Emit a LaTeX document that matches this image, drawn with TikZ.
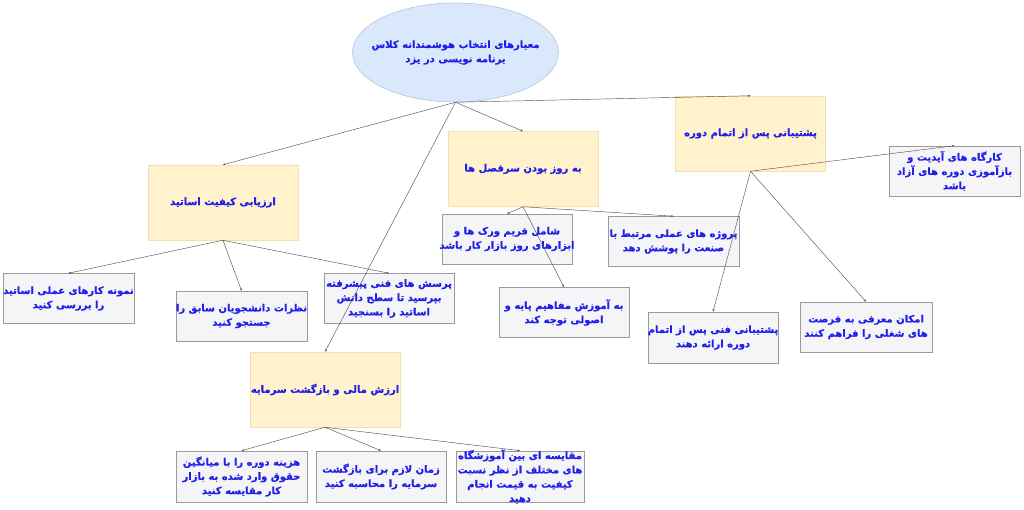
\documentclass[tikz,border=0pt]{standalone}
\usepackage{fontspec}
\usetikzlibrary{shapes.geometric,arrows.meta}
\TeXXeTstate=1
\newfontfamily\farsi[Script=Arabic, BoldFeatures={FakeBold=0.6}]{DejaVu Sans}
\definecolor{txtblue}{HTML}{2020E8}
\definecolor{yelfill}{HTML}{FFF2CC}
\definecolor{yeldraw}{HTML}{F3E0B0}
\definecolor{elfill}{HTML}{DAE8FC}
\definecolor{eldraw}{HTML}{A9BFDF}
\definecolor{grfill}{HTML}{F5F5F7}
\definecolor{grdraw}{HTML}{9A9A9A}
\definecolor{lnclr}{HTML}{555555}
\tikzset{
  txt/.style={font=\farsi\bfseries\fontsize{10}{14.3}\selectfont, text=txtblue, align=center, inner sep=0pt},
  rootnode/.style={ellipse, fill=elfill, draw=eldraw, line width=0.5pt, minimum width=206pt, minimum height=99pt, inner sep=0pt},
  catbox/.style={rectangle, fill=yelfill, draw=yeldraw, line width=0.5pt, minimum width=150pt, minimum height=75pt, inner sep=0pt},
  leafbox/.style={rectangle, fill=grfill, draw=grdraw, line width=0.6pt, minimum width=130pt, minimum height=50pt, inner sep=0pt},
  conn/.style={draw=lnclr, line width=0.45pt, -{Stealth[length=2.6pt,width=2.2pt]}}
}
\begin{document}
\begin{tikzpicture}[x=1pt,y=-1pt]
\useasboundingbox (0,0) rectangle (1024,510);
\fill[white] (0,0) rectangle (1024,510);

\node[rootnode, label={[txt]center:{\beginR معیارهای انتخاب هوشمندانه کلاس\endR\\\beginR برنامه نویسی در یزد\endR}}] (root) at (455.5,52.5) {};

\node[catbox, label={[txt]center:{\beginR پشتیبانی پس از اتمام دوره\endR}}] (sup) at (750.5,133.5) {};
\node[catbox, label={[txt]center:{\beginR به روز بودن سرفصل ها\endR}}] (upd) at (523,169) {};
\node[catbox, label={[txt]center:{\beginR ارزیابی کیفیت اساتید\endR}}] (tch) at (223,202.5) {};
\node[catbox, label={[txt]center:{\beginR ارزش مالی و بازگشت سرمایه\endR}}] (fin) at (325,389.5) {};

\node[leafbox, minimum width=131pt, label={[txt]center:{\beginR نمونه کارهای عملی اساتید\endR\\\beginR را بررسی کنید\endR}}] (t1) at (68.5,298.5) {};
\node[leafbox, minimum width=131pt, label={[txt]center:{\beginR نظرات دانشجویان سابق را\endR\\\beginR جستجو کنید\endR}}] (t2) at (241.5,316) {};
\node[leafbox, label={[txt]center:{\beginR پرسش های فنی پیشرفته\endR\\\beginR بپرسید تا سطح دانش\endR\\\beginR اساتید را بسنجید\endR}}] (t3) at (389,298.5) {};

\node[leafbox, label={[txt]center:{\beginR شامل فریم ورک ها و\endR\\\beginR ابزارهای روز بازار کار باشد\endR}}] (u1) at (507,239) {};
\node[leafbox, minimum width=131pt, label={[txt]center:{\beginR پروژه های عملی مرتبط با\endR\\\beginR صنعت را پوشش دهد\endR}}] (u2) at (673.5,241.5) {};
\node[leafbox, label={[txt]center:{\beginR به آموزش مفاهیم پایه و\endR\\\beginR اصولی توجه کند\endR}}] (u3) at (564,312.5) {};

\node[leafbox, minimum width=131pt, label={[txt]center:{\beginR کارگاه های آپدیت و\endR\\\beginR بازآموزی دوره های آزاد\endR\\\beginR باشد\endR}}] (s1) at (954.5,171) {};
\node[leafbox, minimum height=51pt, label={[txt]center:{\beginR پشتیبانی فنی پس از اتمام\endR\\\beginR دوره ارائه دهند\endR}}] (s2) at (713,337.5) {};
\node[leafbox, minimum width=132pt, label={[txt]center:{\beginR امکان معرفی به فرصت\endR\\\beginR های شغلی را فراهم کنند\endR}}] (s3) at (866,327) {};

\node[leafbox, minimum width=131pt, minimum height=51pt, label={[txt]center:{\beginR هزینه دوره را با میانگین\endR\\\beginR حقوق وارد شده به بازار\endR\\\beginR کار مقایسه کنید\endR}}] (f1) at (241.5,476.5) {};
\node[leafbox, minimum height=51pt, label={[txt]center:{\beginR زمان لازم برای بازگشت\endR\\\beginR سرمایه را محاسبه کنید\endR}}] (f2) at (381,476.5) {};
\node[leafbox, minimum width=128pt, minimum height=51pt, label={[txt]center:{\beginR مقایسه ای بین آموزشگاه\endR\\\beginR های مختلف از نظر نسبت\endR\\\beginR کیفیت به قیمت انجام\endR\\\beginR دهید\endR}}] (f3) at (520,476.5) {};

\draw[conn] (root.south) -- (tch.north);
\draw[conn] (root.south) -- (upd.north);
\draw[conn] (root.south) -- (fin.north);
\draw[conn] (root.south) -- (sup.north);

\draw[conn] (tch.south) -- (t1.north);
\draw[conn] (tch.south) -- (t2.north);
\draw[conn] (tch.south) -- (t3.north);

\draw[conn] (upd.south) -- (u1.north);
\draw[conn] (upd.south) -- (u2.north);
\draw[conn] (upd.south) -- (u3.north);

\draw[conn] (sup.south) -- (s1.north);
\draw[conn] (sup.south) -- (s2.north);
\draw[conn] (sup.south) -- (s3.north);

\draw[conn] (fin.south) -- (f1.north);
\draw[conn] (fin.south) -- (f2.north);
\draw[conn] (fin.south) -- (f3.north);
\end{tikzpicture}
\end{document}
